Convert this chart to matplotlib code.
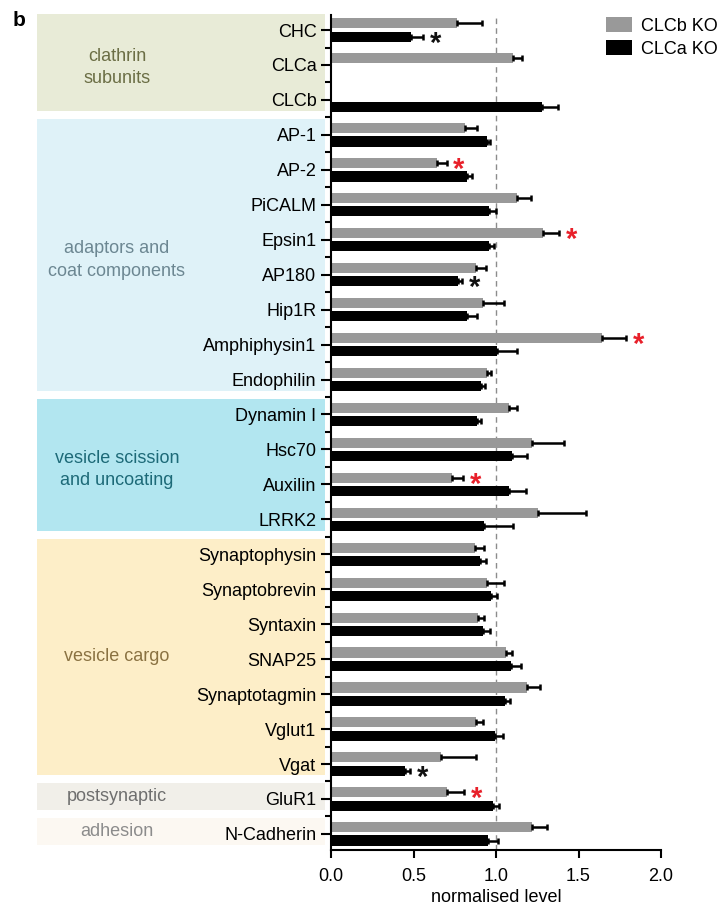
import numpy as np
import matplotlib
matplotlib.use("Agg")
import matplotlib.pyplot as plt
from matplotlib.patches import Rectangle
from matplotlib.transforms import blended_transform_factory

plt.rcParams['font.family'] = ['Liberation Sans', 'DejaVu Sans']

proteins = ['CHC', 'CLCa', 'CLCb', 'AP-1', 'AP-2', 'PiCALM', 'Epsin1', 'AP180',
            'Hip1R', 'Amphiphysin1', 'Endophilin', 'Dynamin I', 'Hsc70', 'Auxilin',
            'LRRK2', 'Synaptophysin', 'Synaptobrevin', 'Syntaxin', 'SNAP25',
            'Synaptotagmin', 'Vglut1', 'Vgat', 'GluR1', 'N-Cadherin']

# CLCb KO (grey)
clcb_ko = [0.766, 1.105, np.nan, 0.812, 0.644, 1.129, 1.283, 0.879, 0.919, 1.644,
           0.943, 1.079, 1.216, 0.731, 1.257, 0.873, 0.943, 0.889, 1.059, 1.186,
           0.877, 0.667, 0.701, 1.216]
clcb_err = [0.147, 0.055, np.nan, 0.075, 0.057, 0.083, 0.101, 0.06, 0.129, 0.144,
            0.025, 0.046, 0.194, 0.071, 0.288, 0.056, 0.107, 0.04, 0.04, 0.081,
            0.046, 0.212, 0.107, 0.095]

# CLCa KO (black)
clca_ko = [0.483, np.nan, 1.277, 0.943, 0.822, 0.96, 0.956, 0.772, 0.822, 1.004,
           0.907, 0.883, 1.099, 1.079, 0.927, 0.903, 0.968, 0.923, 1.089, 1.055,
           0.992, 0.448, 0.98, 0.953]
clca_err = [0.077, np.nan, 0.101, 0.021, 0.034, 0.04, 0.032, 0.02, 0.061, 0.125,
            0.026, 0.024, 0.087, 0.103, 0.178, 0.036, 0.04, 0.041, 0.061, 0.03,
            0.052, 0.031, 0.04, 0.061]

# significant differences: (protein, series)
stars = [('CHC', 'CLCa KO'), ('AP-2', 'CLCb KO'), ('Epsin1', 'CLCb KO'),
         ('AP180', 'CLCa KO'), ('Amphiphysin1', 'CLCb KO'), ('Auxilin', 'CLCb KO'),
         ('Vgat', 'CLCa KO'), ('GluR1', 'CLCb KO')]

# functional groups: label, first protein, last protein
groups = [('clathrin\nsubunits', 'CHC', 'CLCb'),
          ('adaptors and\ncoat components', 'AP-1', 'Endophilin'),
          ('vesicle scission\nand uncoating', 'Dynamin I', 'LRRK2'),
          ('vesicle cargo', 'Synaptophysin', 'Vgat'),
          ('postsynaptic', 'GluR1', 'GluR1'),
          ('adhesion', 'N-Cadherin', 'N-Cadherin')]
group_face = ['#e8ebd7', '#dff2f8', '#b2e6f0', '#fdeec8', '#f1efe9', '#fcf8f2']
group_text = ['#6b6e45', '#6c8792', '#1d6a78', '#8a7242', '#6e6e6e', '#8c8c8c']

W, H = 723, 907
fig = plt.figure(figsize=(W / 100, H / 100), dpi=100)
ax = fig.add_axes([331 / W, 1 - 850 / H, 330 / W, 835 / H])

y = np.arange(len(proteins))
off, bh = 0.19, 0.29
grey = '#999999'
ax.barh(y - off, clcb_ko, height=bh, color=grey, label='CLCb KO', zorder=2)
ax.barh(y + off, clca_ko, height=bh, color='black', label='CLCa KO', zorder=2)
ax.errorbar(clcb_ko, y - off, xerr=[np.zeros(len(y)), clcb_err], fmt='none',
            ecolor='black', elinewidth=1.8, capsize=2.5, capthick=1.8, zorder=3)
ax.errorbar(clca_ko, y + off, xerr=[np.zeros(len(y)), clca_err], fmt='none',
            ecolor='black', elinewidth=1.8, capsize=2.5, capthick=1.8, zorder=3)

ax.axvline(1.0, color='#8c8c8c', lw=1, ls=(0, (4, 3)), zorder=1)

for name, series in stars:
    i = proteins.index(name)
    if series == 'CLCb KO':
        xs = clcb_ko[i] + clcb_err[i]
        yc = i - off
        col = '#e8202a'
    else:
        xs = clca_ko[i] + clca_err[i]
        yc = i + off
        col = '#111111'
    ax.text(xs + 0.075, yc + 0.2, '*', color=col, fontsize=21, fontweight='bold',
            ha='center', va='center', zorder=4)

ax.set_xlim(0, 2.0)
ax.set_ylim(23.46, -0.43)
ax.set_xticks([0, 0.5, 1.0, 1.5, 2.0])
ax.set_xticklabels(['0.0', '0.5', '1.0', '1.5', '2.0'])
ax.set_yticks(y)
ax.set_yticklabels(proteins)
ax.set_yticks(np.arange(len(proteins) - 1) + 0.5, minor=True)
ax.tick_params(axis='y', which='major', length=7.5, width=1.5, pad=3, labelsize=13)
ax.tick_params(axis='y', which='minor', length=4, width=1.5)
ax.tick_params(axis='x', which='major', length=6, width=1.5, pad=7, labelsize=13)
ax.set_xlabel('normalised level', fontsize=13, labelpad=3)
for s in ['top', 'right']:
    ax.spines[s].set_visible(False)
for s in ['left', 'bottom']:
    ax.spines[s].set_linewidth(1.5)

trans = blended_transform_factory(fig.transFigure, ax.transData)
for (label, first, last), fc, tc in zip(groups, group_face, group_text):
    a, b = proteins.index(first), proteins.index(last)
    top, bot = a - 0.45, b + 0.32
    fig.add_artist(Rectangle((37 / W, top), (325 - 37) / W, bot - top,
                             transform=trans, facecolor=fc, edgecolor='none',
                             zorder=-1))
    shift = 0.08 if '\n' in label else -0.08
    fig.text(117 / W, (a + b) / 2 + shift, label, transform=trans, color=tc,
             fontsize=13, ha='center', va='center', linespacing=1.4)

ax.legend(loc='upper left', bbox_to_anchor=(606 / W, 1 - 17 / H),
          bbox_transform=fig.transFigure, frameon=False, borderpad=0,
          borderaxespad=0, handlelength=1.45, handleheight=0.9,
          handletextpad=0.5, labelspacing=0.3, fontsize=13)

fig.text(19 / W, 1 - 20 / H, 'b', fontsize=15, fontweight='bold',
         ha='center', va='center')

fig.savefig('out.png', dpi=100)
